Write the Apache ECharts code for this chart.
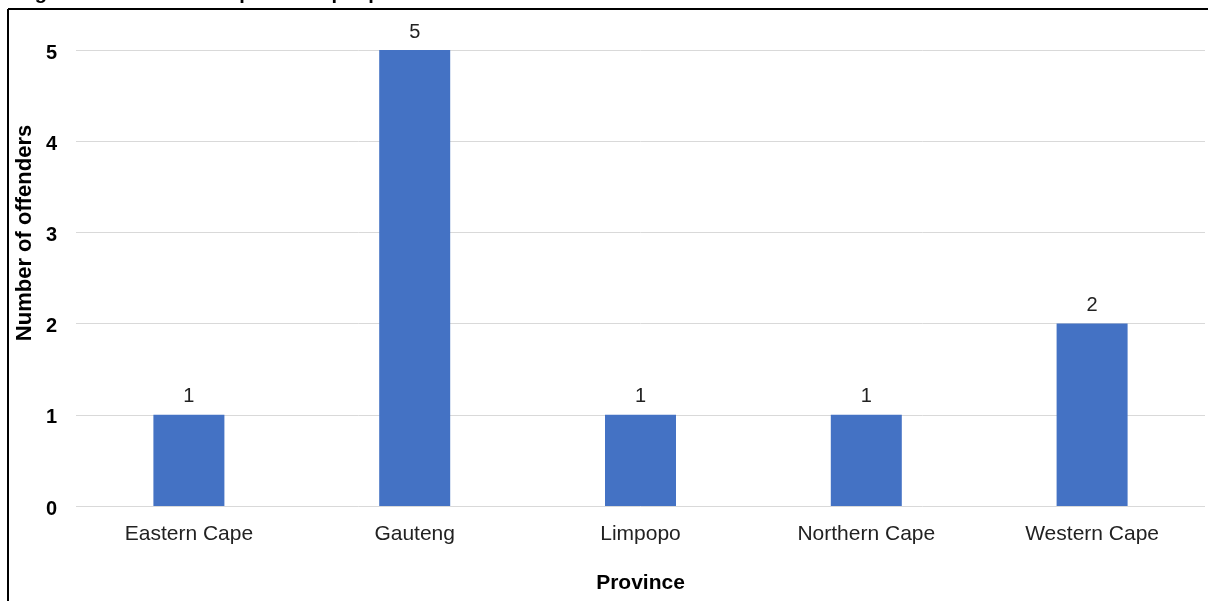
<!DOCTYPE html>
<html><head><meta charset="utf-8">
<script src="https://cdn.jsdelivr.net/npm/echarts@6/dist/echarts.min.js"></script>
<style>html,body{margin:0;padding:0;background:#fff}#c{width:1208px;height:601px}</style>
</head><body><div id="c"></div>
<script>
const titleText = 'Figure 1: Location of rape series per province';
const provinces = ['Eastern Cape', 'Gauteng', 'Limpopo', 'Northern Cape', 'Western Cape'];
const offenders = [1, 5, 1, 1, 2];
const yTicks = [0, 1, 2, 3, 4, 5];

const chart = echarts.init(document.getElementById('c'));
chart.setOption({
  animation: false,
  title: {
    text: titleText, left: 17, top: -17, padding: 0,
    textStyle: { fontFamily: 'Liberation Sans', fontWeight: 'bold', fontSize: 20, color: '#000' }
  },
  graphic: [
    { type: 'line', shape: { x1: 8, y1: 9, x2: 1208, y2: 9 }, style: { stroke: '#000', lineWidth: 2 } },
    { type: 'line', shape: { x1: 8, y1: 9, x2: 8, y2: 601 }, style: { stroke: '#000', lineWidth: 2 } },
    { type: 'text', x: 25, y: 233, rotation: Math.PI / 2,
      style: { text: 'Number of offenders', fontFamily: 'Liberation Sans', fontWeight: 'bold', fontSize: 22,
               fill: '#000', align: 'center', verticalAlign: 'middle' } }
  ],
  grid: { left: 76, right: 3, top: 50, bottom: 95, containLabel: false },
  xAxis: {
    type: 'category', data: provinces,
    name: 'Province', nameLocation: 'middle', nameGap: 67,
    nameTextStyle: { fontFamily: 'Liberation Sans', fontWeight: 'bold', fontSize: 21, color: '#000' },
    axisLine: { show: false }, axisTick: { show: false },
    axisLabel: { fontFamily: 'Liberation Sans', fontSize: 21, color: '#222', margin: 18 }
  },
  yAxis: {
    type: 'value', min: yTicks[0], max: yTicks[yTicks.length - 1], interval: 1,
    axisLine: { show: false }, axisTick: { show: false },
    splitLine: { lineStyle: { color: '#d9d9d9', width: 1 } },
    axisLabel: {
      margin: 19,
      formatter: v => '{t|' + v + '}',
      rich: { t: { fontFamily: 'Liberation Sans', fontWeight: 'bold', fontSize: 20, color: '#000', padding: [6, 0, 0, 0] } }
    }
  },
  series: [{
    type: 'bar', data: offenders, barWidth: 71,
    itemStyle: { color: '#4472C4' },
    label: { show: true, position: 'top', distance: 8, fontFamily: 'Liberation Sans', fontSize: 20, color: '#222' }
  }]
});
</script></body></html>
